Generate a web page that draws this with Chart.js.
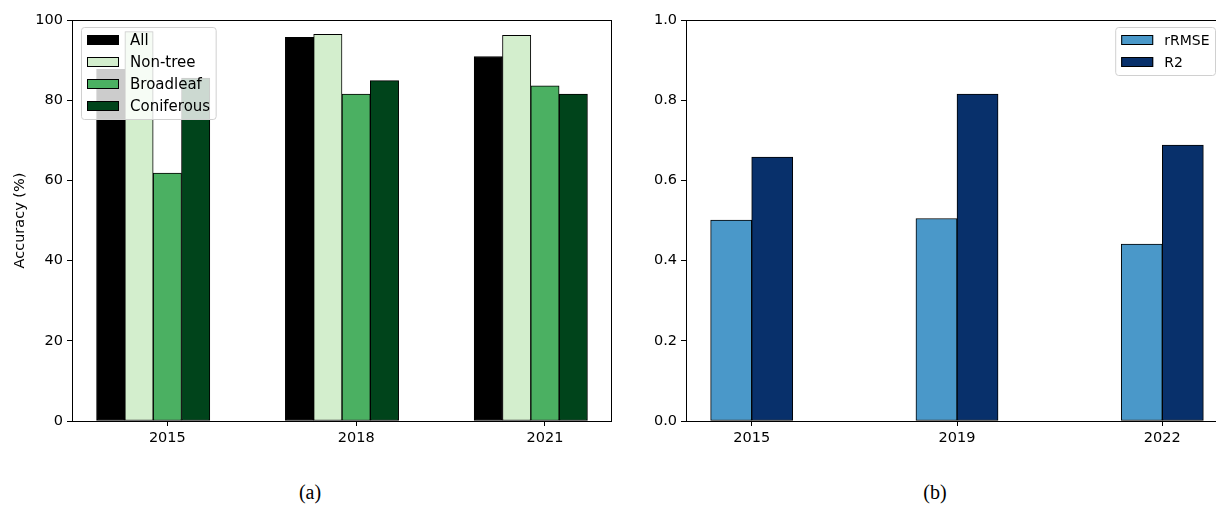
<!DOCTYPE html>
<html>
<head>
<meta charset="utf-8">
<script src="https://cdn.jsdelivr.net/npm/chart.js@4/dist/chart.umd.min.js"></script>
<style>
  html, body { margin: 0; padding: 0; background: #fff; overflow: hidden; }
  body { width: 1216px; height: 506px; position: relative; }
  canvas { position: absolute; top: 0; }
  #left { left: 0; }
  #right { left: 620px; }
  .cap { position: absolute; top: 481px; width: 100px; height: 26px; line-height: 26px;
         text-align: center; font: 20px "Liberation Serif", serif; color: #000; }
</style>
</head>
<body>
<canvas id="left" width="620" height="460"></canvas>
<canvas id="right" width="620" height="460"></canvas>
<div class="cap" style="left:260px">(a)</div>
<div class="cap" style="left:885px">(b)</div>
<script>
'use strict';

// (a) classification accuracy
const yearsA = ['2015', '2018', '2021'];
const seriesA = ['All', 'Non-tree', 'Broadleaf', 'Coniferous'];
const allAcc = [87.7, 95.7, 90.9];
const nonTreeAcc = [97.1, 96.4, 96.2];
const broadleafAcc = [61.8, 81.5, 83.6];
const coniferousAcc = [85.5, 84.9, 81.5];
const colorsA = ['#000000', '#d3eecd', '#4bb062', '#00441b'];
const yTicksA = [0, 20, 40, 60, 80, 100];

// (b) regression metrics
const yearsB = ['2015', '2019', '2022'];
const seriesB = ['rRMSE', 'R2'];
const rrmse = [0.501, 0.505, 0.441];
const r2 = [0.658, 0.815, 0.688];
const colorsB = ['#4a98c9', '#08306b'];
const yTicksB = [0, 0.2, 0.4, 0.6, 0.8, 1.0];

const FONT = '"DejaVu Sans", sans-serif';

// draws the axes box and a matplotlib style legend
const framePlugin = {
  id: 'frame',
  afterDraw(chart, args, opts) {
    const ctx = chart.ctx, a = chart.chartArea;
    ctx.save();
    ctx.strokeStyle = '#000';
    ctx.lineWidth = 1;
    ctx.strokeRect(Math.round(a.left) + 0.5, Math.round(a.top) + 0.5,
      Math.round(a.right - a.left) - 1, Math.round(a.bottom - a.top));

    const sets = chart.data.datasets;
    ctx.font = opts.fontSize + 'px ' + FONT;
    const tw = Math.max(...sets.map(d => ctx.measureText(d.label).width));
    const w = 5.5 + 32 + 11 + tw + 6;
    const h = 26 + 22 * (sets.length - 1);
    const x = opts.align === 'right' ? a.right - opts.inset - w : a.left + opts.inset;
    const y = a.top + 7;
    ctx.beginPath();
    ctx.roundRect(x + 0.5, y + 0.5, w, h, 3);
    ctx.fillStyle = 'rgba(255,255,255,0.8)';
    ctx.fill();
    ctx.strokeStyle = '#d0d0d0';
    ctx.stroke();
    sets.forEach((d, i) => {
      const cy = y + 13 + 22 * i;
      ctx.fillStyle = d.backgroundColor;
      ctx.fillRect(x + 6, cy - 5, 32, 10);
      ctx.strokeStyle = '#000';
      ctx.strokeRect(x + 6.5, cy - 4.5, 31, 9);
      ctx.fillStyle = '#000';
      ctx.textBaseline = 'middle';
      ctx.fillText(d.label, x + 6 + 32 + 11, cy + 1);
    });
    ctx.restore();
  }
};

function barChart(id, years, names, values, colors, barW, xMin, xMax, yTicks, opts) {
  const datasets = names.map((name, j) => ({
    label: name,
    data: years.map((_, i) => ({ x: i + (j - opts.center) * barW, y: values[j][i] })),
    backgroundColor: colors[j],
    borderColor: '#000',
    borderWidth: 1,
    borderSkipped: false,
    grouped: false,
    barPercentage: 1,
    categoryPercentage: 1
  }));
  return new Chart(document.getElementById(id), {
    type: 'bar',
    data: { datasets },
    options: {
      responsive: false,
      animation: false,
      devicePixelRatio: 1,
      layout: { padding: { left: 0, top: 20, right: opts.padRight, bottom: 0 } },
      plugins: {
        legend: { display: false },
        tooltip: { enabled: false },
        frame: { align: opts.legendAlign, fontSize: opts.legendSize, inset: opts.legendInset }
      },
      scales: {
        x: {
          type: 'linear',
          min: xMin,
          max: xMax,
          offset: false,
          afterFit: s => { s.height = 39; },
          afterBuildTicks: s => { s.ticks = years.map((_, i) => ({ value: i })); },
          ticks: {
            callback: v => years[v],
            font: { family: FONT, size: 14.5 },
            color: '#000',
            padding: 4,
            maxRotation: 0
          },
          grid: { offset: false, drawOnChartArea: false, color: '#000', tickLength: 5 },
          border: { display: false }
        },
        y: {
          min: yTicks[0],
          max: yTicks[yTicks.length - 1],
          afterFit: s => { s.width = opts.axisW; },
          afterBuildTicks: s => { s.ticks = yTicks.map(v => ({ value: v })); },
          ticks: {
            callback: opts.fmt,
            font: { family: FONT, size: 14.5 },
            color: '#000',
            padding: 4
          },
          title: opts.yTitle ? {
            display: true,
            text: opts.yTitle,
            font: { family: FONT, size: 14.5 },
            color: '#000',
            padding: { top: 12, bottom: 0 }
          } : { display: false },
          grid: { drawOnChartArea: false, color: '#000', tickLength: 5 },
          border: { display: false }
        }
      }
    },
    plugins: [framePlugin]
  });
}

barChart('left', yearsA, seriesA, [allAcc, nonTreeAcc, broadleafAcc, coniferousAcc], colorsA,
  0.15, -0.505, 2.355, yTicksA,
  { center: 2, axisW: 72, padRight: 8, legendAlign: 'left', legendSize: 15, legendInset: 9,
    fmt: v => String(v), yTitle: 'Accuracy (%)' });

barChart('right', yearsB, seriesB, [rrmse, r2], colorsB,
  0.2, -0.32, 2.32, yTicksB,
  { center: 0.5, axisW: 66, padRight: 12, legendAlign: 'right', legendSize: 14, legendInset: 13,
    fmt: v => v.toFixed(1), yTitle: '' });
</script>
</body>
</html>
